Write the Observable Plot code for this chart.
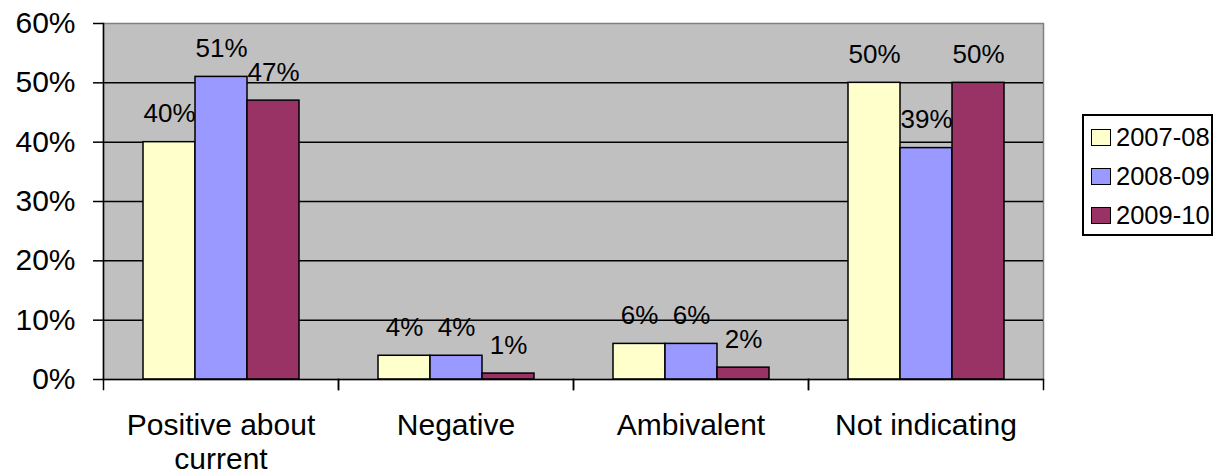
<!DOCTYPE html>
<html><head><meta charset="utf-8">
<script src="https://cdn.jsdelivr.net/npm/d3@7"></script>
<script src="https://cdn.jsdelivr.net/npm/@observablehq/plot@0.6"></script>
<style>
body{margin:0;background:#fff;font-family:"Liberation Sans",Arial,sans-serif;}
#wrap{position:relative;width:1215px;height:475px;}
#legend{position:absolute;left:1082px;top:114px;width:131px;height:122px;border:2px solid #000;background:#fff;box-sizing:border-box;}
.row{position:absolute;left:7px;height:26px;display:flex;align-items:center;font-size:25.5px;line-height:26px;color:#000;}
.sw{width:20px;height:17px;border:1.5px solid #000;margin-right:5px;box-sizing:border-box;}
</style></head><body><div id="wrap"></div>
<script>
const categories = ["Positive about current","Negative","Ambivalent","Not indicating"];
const years = ["2007-08","2008-09","2009-10"];
const v0708 = [0.40,0.04,0.06,0.50];
const v0809 = [0.51,0.04,0.06,0.39];
const v0910 = [0.47,0.01,0.02,0.50];
const colors = ["#FFFFCC","#9999FF","#993366"];
const yTicks = [0,0.1,0.2,0.3,0.4,0.5,0.6];
const series = [v0708, v0809, v0910];
const data = categories.flatMap((c,i)=> years.map((y,j)=>({category:c, year:y, value:series[j][i]})));
const pct = d3.format(".0%");
const wrapLabel = c => c === "Positive about current" ? "Positive about\ncurrent" : c;

const chart = Plot.plot({
  width:1215, height:475, marginLeft:102, marginRight:171, marginTop:23, marginBottom:96,
  style:{fontFamily:"'Liberation Sans', Arial, sans-serif", background:"white", color:"black"},
  fx:{domain:categories, paddingInner:0, paddingOuter:0, label:null},
  x:{domain:years, paddingInner:0, paddingOuter:0.74, axis:null},
  y:{domain:[0,0.6], label:null},
  color:{domain:years, range:colors},
  marks:[
    Plot.frame({fill:"#c0c0c0", stroke:"#808080", strokeWidth:1.5, facet:"super"}),
    Plot.ruleY(yTicks.slice(1,-1), {stroke:"black", strokeWidth:1.5}),
    Plot.barY(data, {fx:"category", x:"year", y:"value", fill:"year", stroke:"black", strokeWidth:1.5}),
    Plot.text(data, {fx:"category", x:"year", y:"value", text: d=>pct(d.value), dy:-28, fontSize:26}),
    Plot.ruleY([0], {stroke:"black", strokeWidth:1.5}),
    Plot.frame({anchor:"left", stroke:"black", strokeWidth:1.5, facet:"super"}),
    Plot.frame({anchor:"left", stroke:"black", strokeWidth:1.5, insetTop:356, insetBottom:-10}),
    Plot.frame({anchor:"right", stroke:"black", strokeWidth:1.5, insetTop:356, insetBottom:-10}),
    Plot.axisY({ticks:yTicks, tickFormat:pct, tickSize:10, tickPadding:18, fontSize:30, label:null, strokeWidth:1.5}),
    Plot.axisFx({anchor:"bottom", tickSize:0, tickPadding:32, fontSize:30, lineHeight:1.12, label:null, tickFormat:wrapLabel})
  ]
});
const wrap = document.getElementById("wrap");
wrap.appendChild(chart);
const legend = document.createElement("div");
legend.id = "legend";
years.forEach((y,i)=>{
  const row = document.createElement("div");
  row.className = "row";
  row.style.top = (8 + i*39) + "px";
  const sw = document.createElement("div");
  sw.className = "sw";
  sw.style.background = colors[i];
  row.appendChild(sw);
  const t = document.createElement("span");
  t.textContent = y;
  row.appendChild(t);
  legend.appendChild(row);
});
wrap.appendChild(legend);
</script></body></html>
